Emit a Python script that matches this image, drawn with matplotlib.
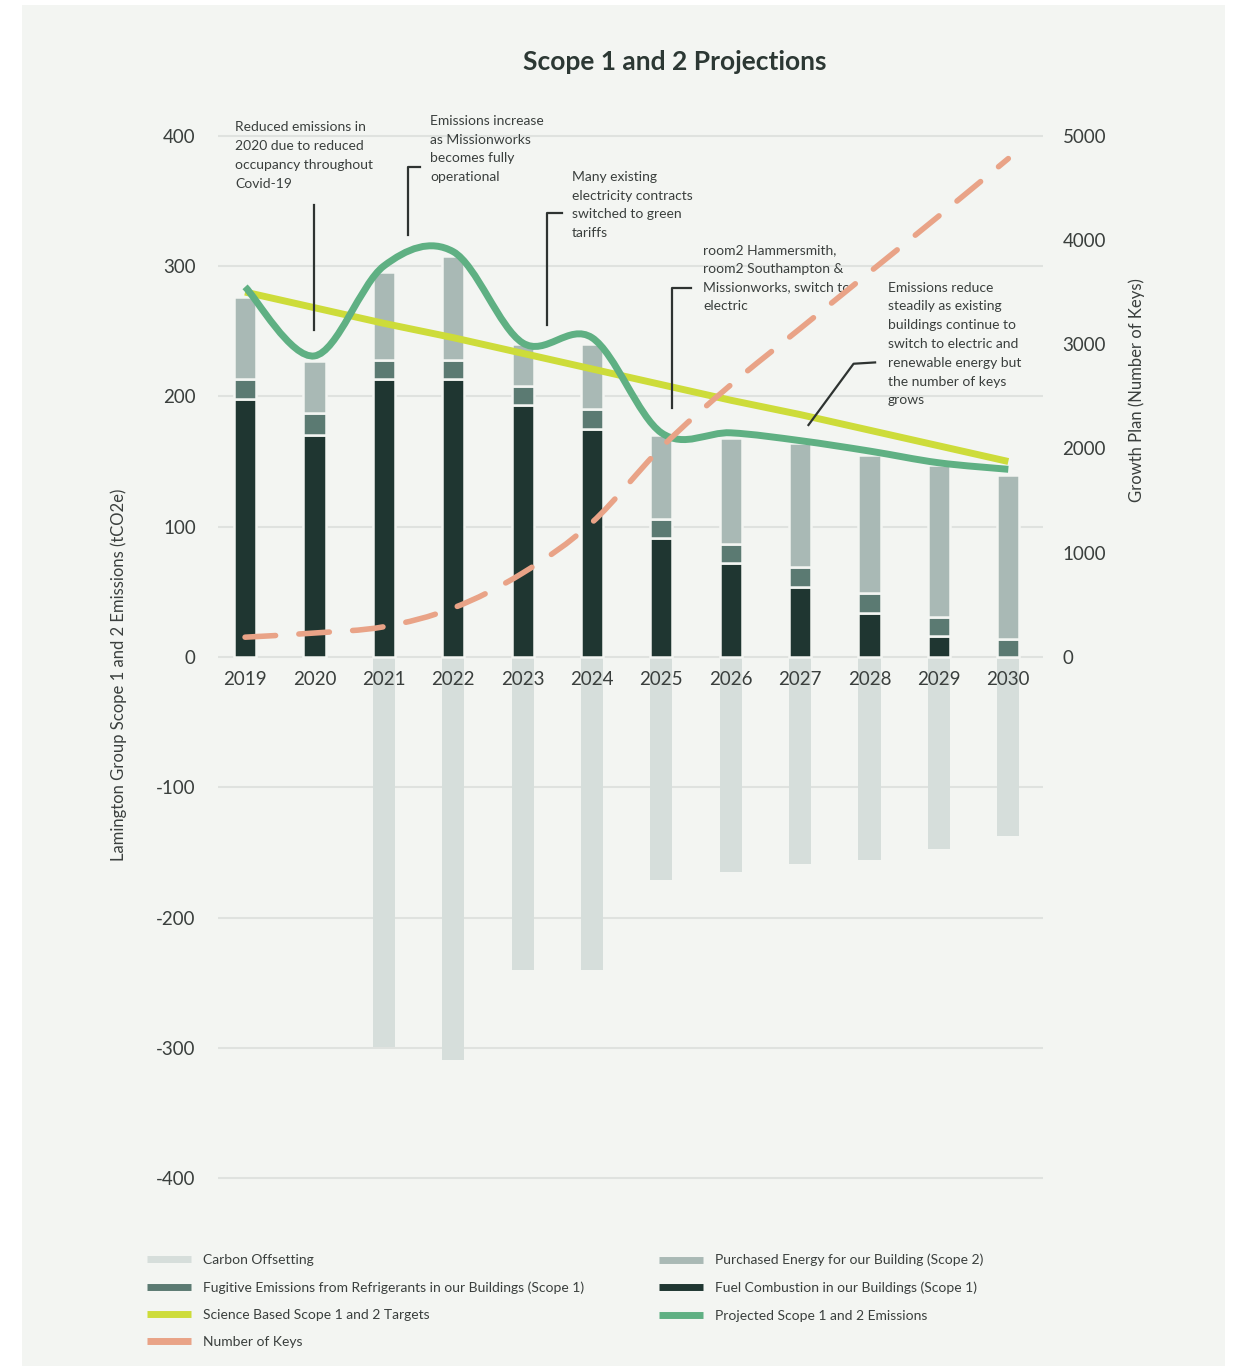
import numpy as np
import matplotlib.pyplot as plt
from matplotlib.path import Path
from matplotlib.patches import PathPatch, Rectangle
from matplotlib.lines import Line2D

plt.rcParams['font.family'] = ['Lato', 'DejaVu Sans']
plt.rcParams['axes.unicode_minus'] = False

# data (tCO2e, keys)
years = [2019, 2020, 2021, 2022, 2023, 2024, 2025, 2026, 2027, 2028, 2029, 2030]
fuel = [198, 170, 213, 213, 193, 175, 91, 72, 54, 34, 16, 0]
fugitive = [15, 17, 15, 15, 15, 15, 15, 15, 15, 15, 15, 14]
purchased = [63, 40, 67, 80, 32, 50, 64, 81, 95, 106, 116, 126]
offsetting = [0, 0, -299, -309, -240, -240, -171, -165, -159, -156, -147, -137]
target = [280, 268, 256, 245, 233, 221, 209, 197, 186, 174, 162, 150]
projected = [284, 231, 300, 311, 241, 245, 172, 172, 166, 158, 149, 144]
keys = [190, 230, 290, 470, 805, 1290, 2010, 2610, 3150, 3690, 4230, 4780]

left_ticks = [-400, -300, -200, -100, 0, 100, 200, 300, 400]
right_ticks = [0, 1000, 2000, 3000, 4000, 5000]

# colours
BG = '#f3f5f2'
C_FUEL = '#1f3631'
C_FUG = '#5b7a72'
C_PURCH = '#a9b9b5'
C_OFFSET = '#d6dedb'
C_TARGET = '#cddc3a'
C_PROJ = '#5fb083'
C_KEYS = '#e9a387'
TXT = '#3a3f3d'


def smooth_path(x, y):
    # catmull-rom style bezier through the points
    x = np.asarray(x, float)
    y = np.asarray(y, float)
    n = len(x)
    verts = [(x[0], y[0])]
    codes = [Path.MOVETO]
    for i in range(n - 1):
        a = i - 1 if i > 0 else i
        d = i + 2 if i + 2 < n else i + 1
        c1 = (x[i] + (x[i + 1] - x[a]) / 6, y[i] + (y[i + 1] - y[a]) / 6)
        c2 = (x[i + 1] - (x[d] - x[i]) / 6, y[i + 1] - (y[d] - y[i]) / 6)
        verts += [c1, c2, (x[i + 1], y[i + 1])]
        codes += [Path.CURVE4] * 3
    return Path(verts, codes)


fig = plt.figure(figsize=(12.35, 13.66), dpi=100, facecolor='white')
fig.patches.append(Rectangle((22 / 1235, 0), 1203 / 1235, 1361 / 1366,
                             transform=fig.transFigure, facecolor=BG,
                             edgecolor='none', zorder=-10))

ax = fig.add_axes([218 / 1235, 172 / 1366, 825 / 1235, 1074 / 1366])
ax.set_facecolor('none')
ax.set_xlim(2018.61, 2030.5)
ax.set_ylim(-412, 412)

# grid
for t in left_ticks:
    ax.axhline(t, color='#dfe2df', lw=1.5, zorder=0)

w = 0.32
fb = np.array(fuel)
gb = fb + np.array(fugitive)
ax.bar(years, offsetting, width=w, color=C_OFFSET, zorder=1, linewidth=0)
ax.bar(years, fuel, width=w, color=C_FUEL, edgecolor=BG, lw=1.8, zorder=2)
ax.bar(years, fugitive, bottom=fb, width=w, color=C_FUG, edgecolor=BG, lw=1.8, zorder=2)
ax.bar(years, purchased, bottom=gb, width=w, color=C_PURCH, edgecolor=BG, lw=1.8, zorder=2)

ax.plot(years, target, color=C_TARGET, lw=5, solid_capstyle='butt', zorder=3)
ax.add_patch(PathPatch(smooth_path(years, projected), fill=False,
                       edgecolor=C_PROJ, lw=5, zorder=4))

# axes styling
for s in ['top', 'right', 'left']:
    ax.spines[s].set_visible(False)
ax.spines['bottom'].set_position(('data', 0))
ax.spines['bottom'].set_visible(False)
ax.set_xticks(years)
ax.set_xticklabels([str(y) for y in years])
ax.set_yticks(left_ticks)
ax.tick_params(axis='both', length=0, labelsize=13.5, labelcolor=TXT)
ax.tick_params(axis='x', pad=10)
ax.tick_params(axis='y', pad=16)
for lab in ax.get_xticklabels():
    lab.set_zorder(5)
ax.set_ylabel('Lamington Group Scope 1 and 2 Emissions (tCO2e)',
              fontsize=12, color=TXT)
ax.yaxis.set_label_coords(-0.11, 0.483)

# right axis: number of keys
ax2 = ax.twinx()
ax2.set_ylim(-412 * 12.5, 412 * 12.5)
ax2.add_patch(PathPatch(smooth_path(years, keys), fill=False, edgecolor=C_KEYS,
                        lw=4, linestyle=(0, (5.5, 4.2)), capstyle='round',
                        zorder=3))
for s in ['top', 'right', 'left', 'bottom']:
    ax2.spines[s].set_visible(False)
ax2.set_yticks(right_ticks)
ax2.tick_params(axis='y', length=0, labelsize=13.5, labelcolor=TXT, pad=14)
ax2.set_ylabel('Growth Plan (Number of Keys)', fontsize=12, color=TXT)
ax2.yaxis.set_label_coords(1.104, 0.749)

# annotations
notes = [
    ('Reduced emissions in\n2020 due to reduced\noccupancy throughout\nCovid-19',
     (2018.86, 411), [(2020.0, 347), (2020.0, 251)]),
    ('Emissions increase\nas Missionworks\nbecomes fully\noperational',
     (2021.67, 416), [(2021.52, 376), (2021.35, 376), (2021.35, 324)]),
    ('Many existing\nelectricity contracts\nswitched to green\ntariffs',
     (2023.71, 373), [(2023.57, 341), (2023.35, 341), (2023.35, 255)]),
    ('room2 Hammersmith,\nroom2 Southampton &\nMissionworks, switch to\nelectric',
     (2025.6, 317), [(2025.42, 283), (2025.16, 283), (2025.16, 191)]),
    ('Emissions reduce\nsteadily as existing\nbuildings continue to\nswitch to electric and\n'
     'renewable energy but\nthe number of keys\ngrows',
     (2028.26, 288), [(2028.08, 226), (2027.77, 225), (2027.12, 178)]),
]
for text, pos, leader in notes:
    ax.text(pos[0], pos[1], text, fontsize=10, color=TXT, va='top', ha='left',
            linespacing=1.68, zorder=6, clip_on=False)
    lx, ly = zip(*leader)
    ax.plot(lx, ly, color='#2e3331', lw=1.6, zorder=6, clip_on=False)

fig.text(675 / 1235, 1 - 62 / 1366, 'Scope 1 and 2 Projections', fontsize=19,
         fontweight='bold', color='#2c3834', ha='center', va='center')

# legend
def handle(c):
    return Line2D([], [], color=c, lw=5, solid_capstyle='butt')

leg_kw = dict(frameon=False, fontsize=10, labelcolor=TXT, handlelength=3.2,
              handletextpad=0.85, labelspacing=1.1, borderpad=0, loc='upper left')
leg1 = fig.legend([handle(C_OFFSET), handle(C_FUG), handle(C_TARGET), handle(C_KEYS)],
                  ['Carbon Offsetting',
                   'Fugitive Emissions from Refrigerants in our Buildings (Scope 1)',
                   'Science Based Scope 1 and 2 Targets', 'Number of Keys'],
                  bbox_to_anchor=(140 / 1235, 1 - 1247 / 1366), **leg_kw)
leg2 = fig.legend([handle(C_PURCH), handle(C_FUEL), handle(C_PROJ)],
                  ['Purchased Energy for our Building (Scope 2)',
                   'Fuel Combustion in our Buildings (Scope 1)',
                   'Projected Scope 1 and 2 Emissions'],
                  bbox_to_anchor=(652 / 1235, 1 - 1247 / 1366), **leg_kw)

fig.savefig('out.png', dpi=100, facecolor='white')
